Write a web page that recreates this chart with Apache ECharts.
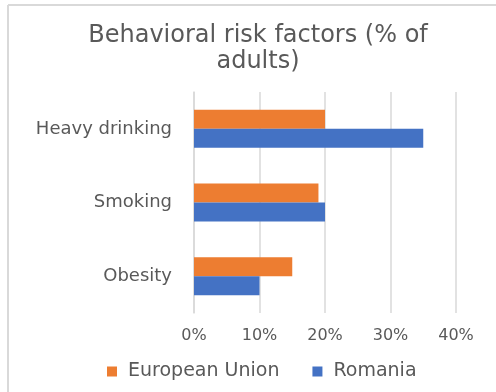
<!DOCTYPE html>
<html>
<head>
<meta charset="utf-8">
<script src="https://cdn.jsdelivr.net/npm/echarts@6/dist/echarts.min.js"></script>
<style>
  html, body { margin: 0; padding: 0; background: #fff; }
  #chart { width: 496px; height: 392px; }
</style>
</head>
<body>
<div id="chart"></div>
<script>
const categories = ['Obesity', 'Smoking', 'Heavy drinking'];
const euValues = [15, 19, 20];
const romaniaValues = [10, 20, 35];
const seriesNames = ['European Union', 'Romania'];

const textColor = '#595959';
const font = 'DejaVu Sans';

const myChart = echarts.init(document.getElementById('chart'));
const option = {
  color: ['#ED7D31', '#4472C4'],
  animation: false,
  title: {
    text: 'Behavioral risk factors (% of\nadults)',
    left: 258,
    textAlign: 'center',
    top: 23,
    padding: 0,
    textStyle: {
      fontFamily: font,
      fontSize: 24,
      fontWeight: 'normal',
      color: textColor,
      lineHeight: 26,
    },
  },
  // frame around the chart area
  graphic: [
    { type: 'line', shape: { x1: 8, y1: 5, x2: 496, y2: 5 }, style: { stroke: '#d9d9d9', lineWidth: 2 } },
    { type: 'line', shape: { x1: 8, y1: 5, x2: 8, y2: 392 }, style: { stroke: '#d9d9d9', lineWidth: 2 } },
  ],
  legend: {
    data: seriesNames,
    left: 102,
    top: 357,
    icon: 'rect',
    itemWidth: 10,
    itemHeight: 10,
    itemGap: 33,
    textStyle: { fontFamily: font, fontSize: 19, color: textColor, padding: [0, 0, 0, 6] },
  },
  grid: { left: 194, right: 40, top: 92, bottom: 79, containLabel: false },
  xAxis: {
    type: 'value',
    min: 0,
    max: 40,
    interval: 10,
    axisLine: { show: false },
    axisTick: { show: false },
    splitLine: { lineStyle: { color: '#d9d9d9', width: 1.5 } },
    axisLabel: { formatter: '{value}%', fontFamily: font, fontSize: 16, color: textColor, margin: 15 },
  },
  yAxis: {
    type: 'category',
    data: categories,
    axisLine: { lineStyle: { color: '#d9d9d9', width: 1.5 } },
    axisTick: { show: false },
    axisLabel: { fontFamily: font, fontSize: 18, color: textColor, margin: 22 },
  },
  series: [
    { name: seriesNames[0], type: 'bar', data: euValues, barWidth: 19, barGap: '0%' },
    { name: seriesNames[1], type: 'bar', data: romaniaValues, barWidth: 19, barGap: '0%' },
  ],
};
myChart.setOption(option);
</script>
</body>
</html>
